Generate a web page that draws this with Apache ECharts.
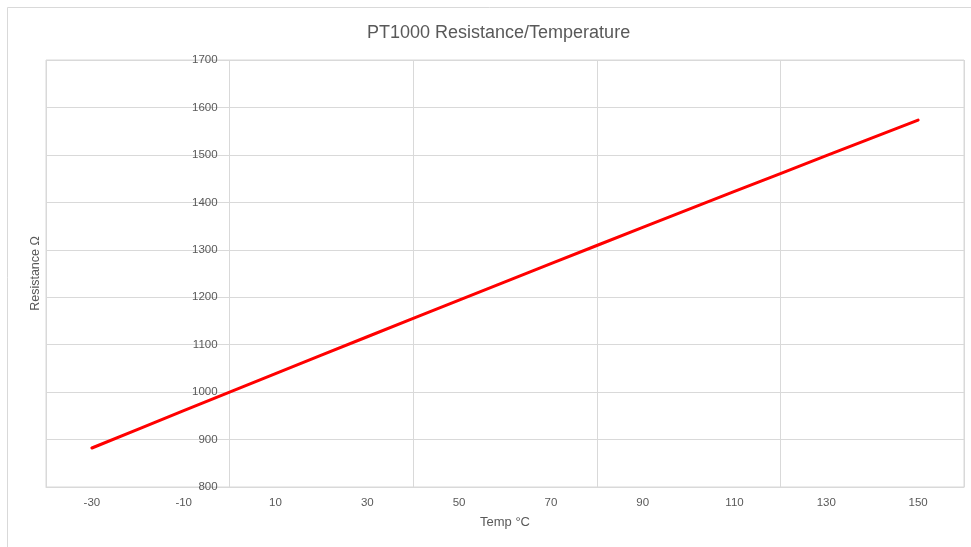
<!DOCTYPE html>
<html>
<head>
<meta charset="utf-8">
<script src="https://cdn.jsdelivr.net/npm/echarts@6/dist/echarts.min.js"></script>
<style>
html,body{margin:0;padding:0;background:#fff;}
#chart{width:971px;height:547px;}
</style>
</head>
<body>
<div id="chart"></div>
<script>
var temps = [-30, -20, -10, 0, 10, 20, 30, 40, 50, 60, 70, 80, 90, 100, 110, 120, 130, 140, 150];
var resistance = [882.2, 921.6, 960.9, 1000.0, 1039.0, 1077.9, 1116.7, 1155.4, 1194.0, 1232.4, 1270.8, 1309.0, 1347.1, 1385.1, 1422.9, 1460.7, 1498.3, 1535.8, 1573.3];
var xTickLabels = [-30, -10, 10, 30, 50, 70, 90, 110, 130, 150];
var yTickLabels = [800, 900, 1000, 1100, 1200, 1300, 1400, 1500, 1600, 1700];

var chart = echarts.init(document.getElementById('chart'), null, {renderer: 'canvas'});
var grid = '#d9d9d9';
var txt = '#595959';
var font = 'Liberation Sans';

chart.setOption({
  animation: false,
  backgroundColor: '#fff',
  title: {
    text: 'PT1000 Resistance/Temperature',
    left: 362,
    top: 19,
    textStyle: {color: txt, fontSize: 18, fontWeight: 'normal', fontFamily: font}
  },
  graphic: [
    {type: 'rect', left: 5, top: 5, shape: {x: 0, y: 0, width: 1000, height: 600},
     style: {fill: 'none', stroke: grid, lineWidth: 1}, z: 100, silent: true},
    {type: 'text', left: 29, top: 'middle', rotation: Math.PI / 2,
     style: {text: 'Resistance Ω', fill: txt, font: '12.5px "Liberation Sans"'}},
    {type: 'text', left: 480, top: 516,
     style: {text: 'Temp °C', fill: txt, font: '13px "Liberation Sans"'}}
  ],
  grid: {left: 46, right: 7, top: 60, bottom: 60, show: true, borderColor: grid, borderWidth: 1},
  xAxis: {
    type: 'value', min: -40, max: 160, interval: 40,
    axisLine: {show: true, onZero: false, lineStyle: {color: grid}},
    axisTick: {show: false},
    splitLine: {show: true, lineStyle: {color: grid, width: 1}},
    axisLabel: {customValues: xTickLabels, color: txt, fontSize: 11.5, fontFamily: font, margin: 10,
                formatter: function (v) { return String(v); }}
  },
  yAxis: {
    type: 'value', min: 800, max: 1700, interval: 100,
    position: 'left',
    offset: -183.6,
    axisLine: {show: false, onZero: false},
    axisTick: {show: false},
    splitLine: {show: true, lineStyle: {color: grid, width: 1}},
    axisLabel: {customValues: yTickLabels, color: txt, fontSize: 11.5, fontFamily: font, margin: 12,
                formatter: function (v) { return String(v); }}
  },
  series: [{
    type: 'line',
    data: temps.map(function (t, i) { return [t, resistance[i]]; }),
    showSymbol: false,
    symbol: 'none',
    lineStyle: {color: '#ff0000', width: 3, cap: 'round'},
    itemStyle: {color: '#ff0000'}
  }]
});
</script>
</body>
</html>
